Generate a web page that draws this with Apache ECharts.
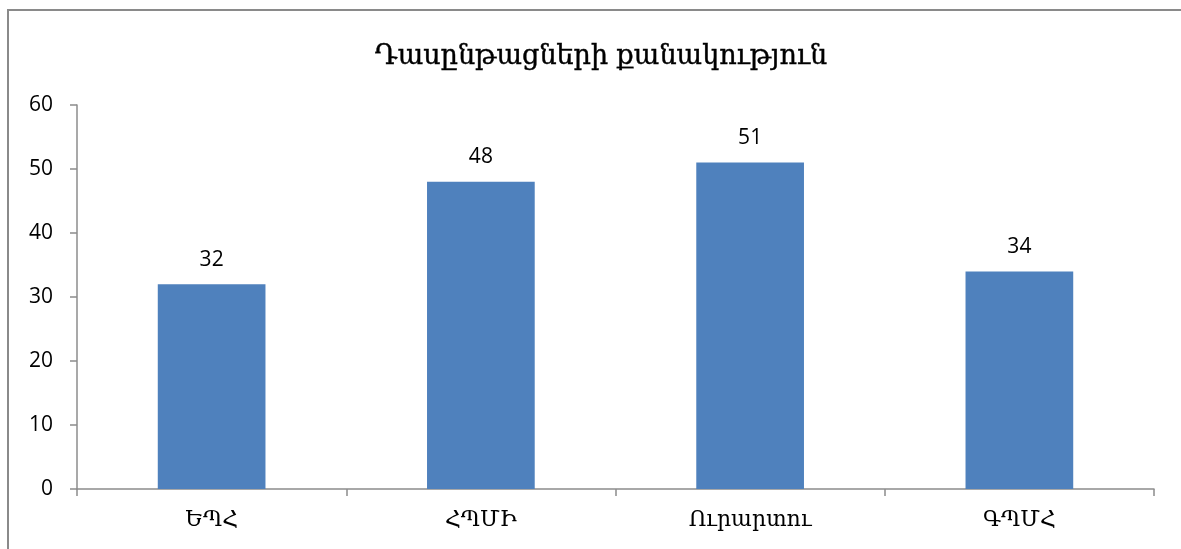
<!DOCTYPE html>
<html><head><meta charset="utf-8">
<script src="https://cdn.jsdelivr.net/npm/echarts@6/dist/echarts.min.js"></script>
<style>html,body{margin:0;padding:0;background:#fff}#c{width:1181px;height:549px}</style>
</head><body><div id="c"></div>
<script>
const titleText = 'Դասընթացների քանակություն';
const categories = ['ԵՊՀ', 'ՀՊՄԻ', 'Ուրարտու', 'ԳՊՄՀ'];
const values = [32, 48, 51, 34];
const yTicks = {min: 0, max: 60, interval: 10};

const chart = echarts.init(document.getElementById('c'));
chart.setOption({
  animation: false,
  backgroundColor: '#fff',
  title: {
    text: titleText, left: 596, top: 38, textAlign: 'center',
    textStyle: {fontFamily: 'DejaVu Serif', fontSize: 27, fontWeight: 'normal', color: '#000',
      textBorderColor: '#000', textBorderWidth: 0.4}
  },
  graphic: [{
    type: 'rect', shape: {x: 8, y: 10, width: 1200, height: 600},
    style: {fill: 'none', stroke: '#8a8a8a', lineWidth: 2}, silent: true
  }],
  grid: {left: 77, right: 27, top: 105, bottom: 60, containLabel: false},
  xAxis: {
    type: 'category', data: categories,
    axisLine: {lineStyle: {color: '#8c8c8c', width: 1.5}},
    axisTick: {show: true, alignWithLabel: false, length: 7, lineStyle: {color: '#8c8c8c', width: 1.5}},
    axisLabel: {fontFamily: 'DejaVu Serif', fontSize: 22, color: '#000', margin: 20}
  },
  yAxis: {
    type: 'value', min: yTicks.min, max: yTicks.max, interval: yTicks.interval,
    axisLine: {show: true, lineStyle: {color: '#8c8c8c', width: 1.5}},
    axisTick: {show: true, length: 7, lineStyle: {color: '#8c8c8c', width: 1.5}},
    splitLine: {show: false},
    axisLabel: {fontFamily: 'Open Sans', fontSize: 21, color: '#000', margin: 24}
  },
  series: [{
    type: 'bar', data: values, barWidth: '40%',
    itemStyle: {color: '#4f81bd'},
    label: {show: true, position: 'top', distance: 14, fontFamily: 'Open Sans', fontSize: 21, color: '#000'}
  }]
});
</script></body></html>
